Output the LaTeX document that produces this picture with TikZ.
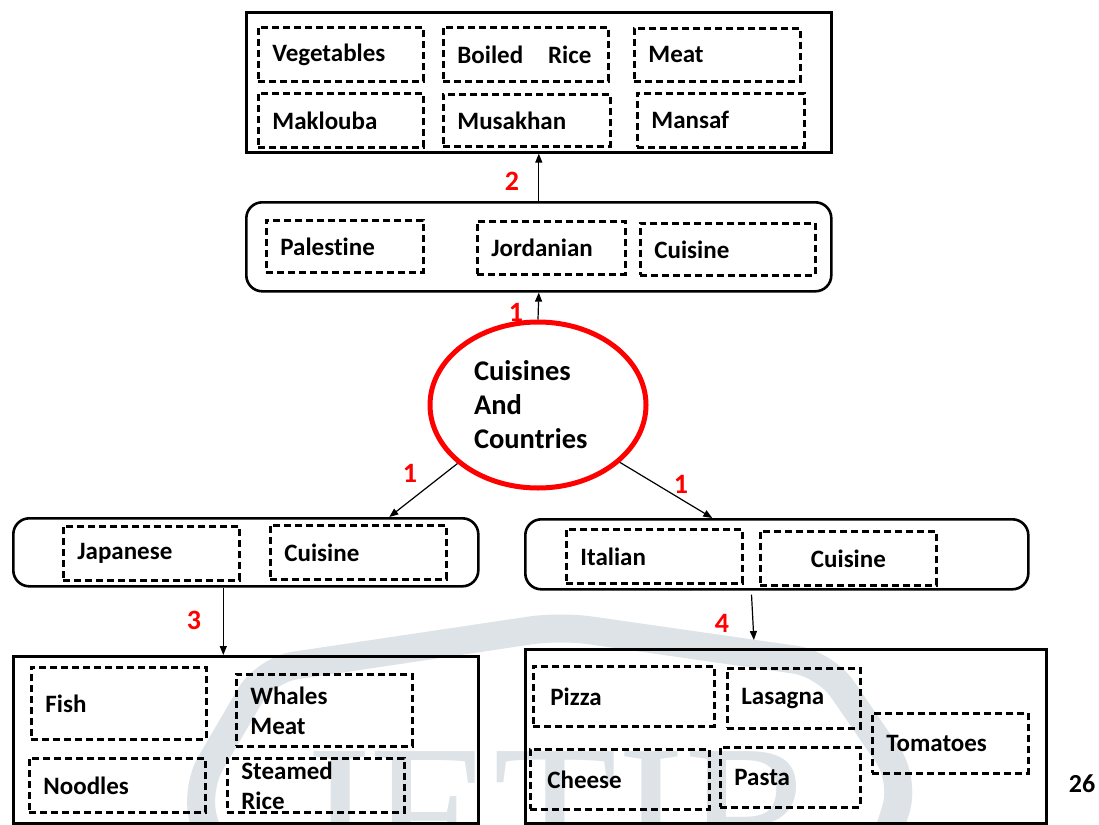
\documentclass[tikz,border=0pt]{standalone}
\usepackage{fontspec}
\setmainfont{Carlito}[Ligatures=NoCommon]
\newfontfamily\wmfont{Liberation Serif}
\usetikzlibrary{shapes.geometric,arrows.meta}

\newcommand{\dishfont}{\fontsize{25}{30}\selectfont\bfseries}
\newcommand{\hubfont}{\fontsize{28.5}{34}\selectfont\bfseries}
\newcommand{\redfont}{\fontsize{28}{30}\selectfont\bfseries}
\definecolor{wmgray}{RGB}{221,227,231}

\tikzset{
  dbox/.style={draw, line width=2.8pt, dash pattern=on 7pt off 4pt, anchor=north west,
    inner xsep=14pt, inner ysep=0pt, align=left, font=\dishfont},
  outerbox/.style={draw, line width=2.6pt, anchor=north west, inner sep=0pt},
  roundbox/.style={outerbox, rounded corners=16pt},
  arr/.style={-{Triangle[length=9pt,width=7pt]}, line width=1.2pt},
  numlbl/.style={text=red, font=\redfont},
}

\begin{document}
\begin{tikzpicture}[x=1pt, y=-1pt]
\useasboundingbox (0,0) rectangle (1099,824);

% watermark
\begin{scope}
\clip (0,0) rectangle (1099,824);
\draw[wmgray, line width=28pt, rounded corners=30pt] (215,860) -- (195,790) -- (265,670) -- (560,626) -- (825,664) -- (905,780) -- (880,860);
\node[wmgray, font=\wmfont\fontsize{203}{203}\selectfont, anchor=base west, inner sep=0pt] (wmtext) at (290,884) {JETIR};
\end{scope}

% top: dishes
\node[outerbox, minimum width=585pt, minimum height=140pt] (joDish) at (245,11) {};
\node[dbox, text width=137pt, minimum height=54pt] (veg) at (257,26) {Vegetables};
\node[dbox, text width=137pt, minimum height=54pt] (boiled) at (442,26) {Boiled\ \ \ Rice};
\node[dbox, text width=138pt, minimum height=53pt] (meat) at (633,27) {Meat};
\node[dbox, text width=137pt, minimum height=54pt] (maklouba) at (257,92) {Maklouba};
\node[dbox, text width=139pt, minimum height=52pt] (musakhan) at (442,93) {Musakhan};
\node[dbox, text width=139pt, minimum height=54pt] (mansaf) at (636,92) {Mansaf};

% middle row
\node[roundbox, minimum width=585pt, minimum height=89pt] (joRow) at (245,201) {};
\node[dbox, text width=129pt, minimum height=52pt] (palestine) at (265,219) {Palestine};
\node[dbox, text width=120pt, minimum height=53pt] (jordanian) at (476,220) {Jordanian};
\node[dbox, text width=147pt, minimum height=52pt] (cuisJo) at (639,222) {Cuisine};

% centre
\node[ellipse, draw=red, line width=5pt, minimum width=216pt, minimum height=166pt,
  inner sep=0pt, text width=128pt, align=left, font=\hubfont] (hub) at (538,405) {Cuisines\\And\\Countries};

% japanese
\node[roundbox, minimum width=465pt, minimum height=68pt] (jpRow) at (12,517) {};
\node[dbox, text width=148pt, minimum height=54pt] (japanese) at (62,525) {Japanese};
\node[dbox, text width=148pt, minimum height=54pt] (cuisJp) at (269,524) {Cuisine};

\node[outerbox, minimum width=465pt, minimum height=167pt] (jpDish) at (12,655) {};
\node[dbox, text width=147pt, minimum height=72pt] (fish) at (30,666) {Fish};
\node[dbox, text width=148pt, minimum height=72pt] (whales) at (235,673) {Whales\\Meat};
\node[dbox, text width=148pt, minimum height=54pt] (noodles) at (28,757) {Noodles};
\node[dbox, text width=149pt, minimum height=54pt] (steamed) at (226,757) {Steamed\\Rice};

% italian
\node[roundbox, minimum width=503pt, minimum height=70pt] (itRow) at (524,518) {};
\node[dbox, text width=148pt, minimum height=54pt] (italian) at (565,528) {Italian};
\node[dbox, text width=148pt, minimum height=54pt, align=center] (cuisIt) at (759,530) {Cuisine};

\node[outerbox, minimum width=521pt, minimum height=174pt] (itDish) at (524,648) {};
\node[dbox, inner xsep=17pt, text width=147pt, minimum height=60pt] (pizza) at (532,665) {Pizza};
\node[dbox, text width=105pt, minimum height=60pt] (lasagna) at (726,667) {Lasagna};
\node[dbox, text width=128pt, minimum height=60pt] (tomatoes) at (871,712) {Tomatoes};
\node[dbox, inner xsep=17pt, text width=145pt, minimum height=60pt] (cheese) at (529,748) {Cheese};
\node[dbox, text width=112pt, minimum height=60pt] (pasta) at (719,746) {Pasta};

% arrows
\draw[arr] (joRow.north) -- (joDish.south);
\draw[arr] (hub.north) -- (joRow.south);
\draw[arr] (hub.216) -- ([xshift=143.5pt]jpRow.north);
\draw[arr] (hub.325) -- ([xshift=-64.5pt]itRow.north);
\draw[arr] ([xshift=-22.5pt]jpRow.south) -- ([xshift=-22.5pt]jpDish.north);
\draw[arr, shorten <=4pt, shorten >=8pt] ([xshift=-25.5pt]itRow.south) -- ([xshift=-31.5pt]itDish.north);

\node[numlbl] (n2) at (512,181) {2};
\node[numlbl] (n1top) at (516,312) {1};
\node[numlbl] (n1left) at (410,473) {1};
\node[numlbl] (n1right) at (681,484) {1};
\node[numlbl] (n3) at (194,620) {3};
\node[numlbl] (n4) at (722,623) {4};

\node[font=\fontsize{26}{30}\selectfont\bfseries] (pagenum) at (1082,784) {26};
\end{tikzpicture}
\end{document}
